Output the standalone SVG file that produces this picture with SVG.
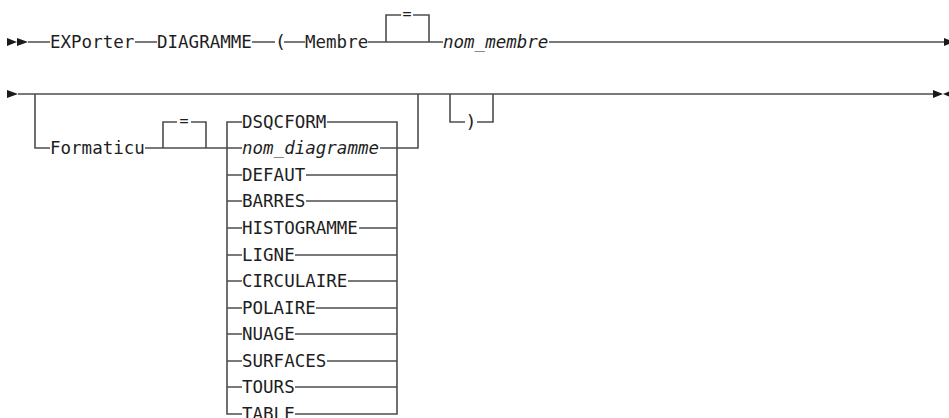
<svg xmlns="http://www.w3.org/2000/svg" width="949" height="418" viewBox="0 0 949 418">
<style>
.t{font-family:"DejaVu Sans Mono","Liberation Mono",monospace;font-size:18.2px;fill:#1e1e1e}
.i{font-style:italic}
.eq{font-size:15px}
.l{stroke:#4d4d4d;stroke-width:1.6;fill:none}
.a{fill:#1a1a1a}
</style>
<rect width="949" height="418" fill="#fff"/>
<g id="connectors">
<path class="l" d="M28,42H50M135,42H157M252,42H275M284,42H305M368,42H443M549,42H944"/>
<path class="l" d="M386,42V15H401M413,15H429V42"/>
<path class="l" d="M18,94H933"/>
<path class="l" d="M35,94V148H50M145,148H227"/>
<path class="l" d="M163,148V122H177M191,122H206V148"/>
<path class="l" d="M242,122H227V414H242M327,122H397V414H295"/>
<path class="l" d="M227,148H242M380,148H418V94"/>
<path class="l" d="M227,175H242M306,175H397M227,201H242M306,201H397M227,228H242M359,228H397M227,255H242M295,255H397M227,281H242M348,281H397M227,308H242M316,308H397M227,334H242M295,334H397M227,361H242M327,361H397M227,387H242M295,387H397"/>
<path class="l" d="M450,94V122H465M477,122H493V94"/>
</g>
<g id="start1"><polygon class="a" points="7,38 17,42 7,46"/><polygon class="a" points="17,38 28,42 17,46"/></g>
<g id="n-exporter"><text class="t" x="50" y="48" textLength="84.3" lengthAdjust="spacingAndGlyphs">EXPorter</text></g>
<g id="n-diagramme"><text class="t" x="157" y="48" textLength="94.8" lengthAdjust="spacingAndGlyphs">DIAGRAMME</text></g>
<g id="n-paren-open"><text class="t" x="275" y="48">(</text></g>
<g id="n-membre"><text class="t" x="305" y="48" textLength="63.2" lengthAdjust="spacingAndGlyphs">Membre</text></g>
<g id="n-eq1"><text class="t eq" x="407" y="19" text-anchor="middle">=</text></g>
<g id="n-nom-membre"><text class="t i" x="443" y="48" textLength="105.4" lengthAdjust="spacingAndGlyphs">nom_membre</text></g>
<g id="end1"><polygon class="a" points="944,38 954,42 944,46"/></g>
<g id="start2"><polygon class="a" points="7,90 18,94 7,98"/></g>
<g id="n-formaticu"><text class="t" x="50" y="154" textLength="94.8" lengthAdjust="spacingAndGlyphs">Formaticu</text></g>
<g id="n-eq2"><text class="t eq" x="184" y="126" text-anchor="middle">=</text></g>
<g id="c-dsqcform"><text class="t" x="242" y="128" textLength="84.3" lengthAdjust="spacingAndGlyphs">DSQCFORM</text></g>
<g id="c-nom-diagramme"><text class="t i" x="242" y="154" textLength="137" lengthAdjust="spacingAndGlyphs">nom_diagramme</text></g>
<g id="c-defaut"><text class="t" x="242" y="181" textLength="63.2" lengthAdjust="spacingAndGlyphs">DEFAUT</text></g>
<g id="c-barres"><text class="t" x="242" y="207" textLength="63.2" lengthAdjust="spacingAndGlyphs">BARRES</text></g>
<g id="c-histogramme"><text class="t" x="242" y="234" textLength="115.9" lengthAdjust="spacingAndGlyphs">HISTOGRAMME</text></g>
<g id="c-ligne"><text class="t" x="242" y="261" textLength="52.7" lengthAdjust="spacingAndGlyphs">LIGNE</text></g>
<g id="c-circulaire"><text class="t" x="242" y="287" textLength="105.4" lengthAdjust="spacingAndGlyphs">CIRCULAIRE</text></g>
<g id="c-polaire"><text class="t" x="242" y="314" textLength="73.7" lengthAdjust="spacingAndGlyphs">POLAIRE</text></g>
<g id="c-nuage"><text class="t" x="242" y="340" textLength="52.7" lengthAdjust="spacingAndGlyphs">NUAGE</text></g>
<g id="c-surfaces"><text class="t" x="242" y="367" textLength="84.3" lengthAdjust="spacingAndGlyphs">SURFACES</text></g>
<g id="c-tours"><text class="t" x="242" y="393" textLength="52.7" lengthAdjust="spacingAndGlyphs">TOURS</text></g>
<g id="c-table"><text class="t" x="242" y="420" textLength="52.7" lengthAdjust="spacingAndGlyphs">TABLE</text></g>
<g id="n-paren-close"><text class="t" x="471" y="128" text-anchor="middle">)</text></g>
<g id="end2"><polygon class="a" points="933,90 943,94 933,98"/><polygon class="a" points="953,90 943,94 953,98"/></g>
</svg>
